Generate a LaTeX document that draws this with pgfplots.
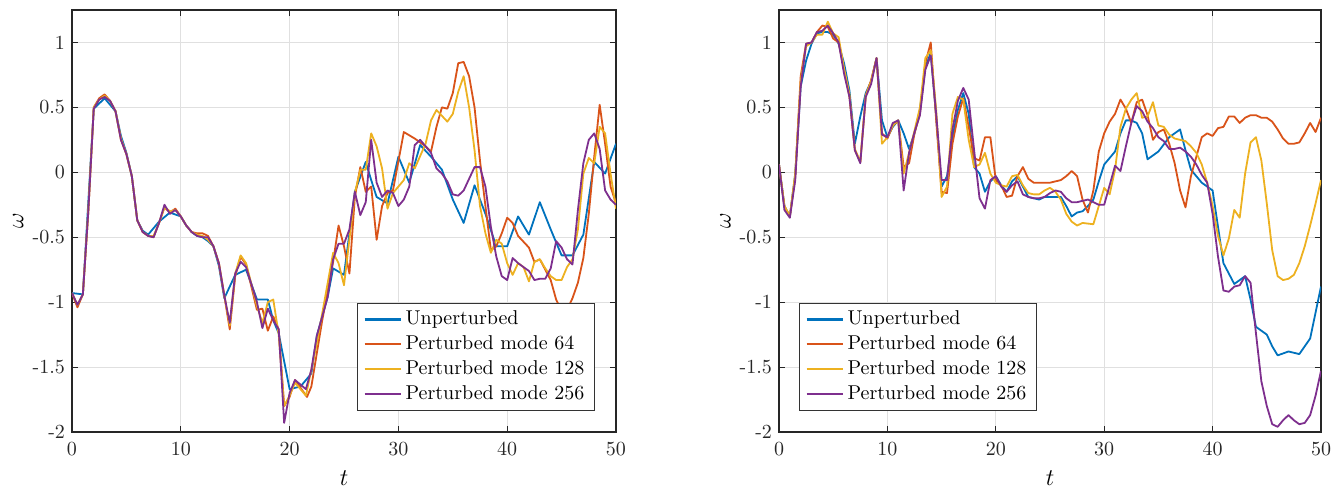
\documentclass[border=0pt]{standalone}
\usepackage{pgfplots}
\pgfplotsset{compat=1.18}
\definecolor{mblue}{rgb}{0,0.447,0.741}
\definecolor{morange}{rgb}{0.850,0.325,0.098}
\definecolor{myellow}{rgb}{0.929,0.694,0.125}
\definecolor{mpurple}{rgb}{0.494,0.184,0.556}
\pgfplotsset{
  sb/.style={mblue, line width=0.9pt, line join=round},
  so/.style={morange, line width=0.9pt, line join=round},
  sy/.style={myellow, line width=0.9pt, line join=round},
  sp/.style={mpurple, line width=0.9pt, line join=round},
  mstyle/.style={
    scale only axis,
    height=211pt,
    xmin=0, xmax=50, ymin=-2, ymax=1.25,
    xtick={0,10,20,30,40,50},
    ytick={-2,-1.5,-1,-0.5,0,0.5,1},
    yticklabels={-2,-1.5,-1,-0.5,0,0.5,1},
    tick pos=both, tick align=inside,
    major tick length=3pt,
    grid=major,
    grid style={black!12, line width=0.5pt},
    axis line style={black!85, line width=0.55pt},
    every tick/.style={black!85, line width=0.5pt},
    tick label style={black!85, font=\normalsize},
    xticklabel style={yshift=-2pt},
    xlabel={$t$}, ylabel={$\omega$},
    label style={font=\large},
    xlabel style={at={(axis description cs:0.5,-0.109)}, anchor=center},
    ylabel style={at={(axis description cs:-0.099,0.5)}, anchor=center},
    legend cell align=left,
    legend style={draw=black!80, font=\normalsize, fill=white},
    legend image code/.code={\draw[#1, line width=1.1pt] (0pt,0pt) -- (18pt,0pt);},
  }
}
\begin{document}
\begin{tikzpicture}
\path[use as bounding box] (-36pt,-29.5pt) rectangle (634pt,216pt);
\begin{axis}[mstyle, width=272pt, at={(0pt,0pt)}, anchor=south west,
  legend style={at={(axis description cs:0.961,0.05)}, anchor=south east}]
\addplot[sb] coordinates {
(0,-0.93)(1,-0.94)(2,0.49)(3,0.57)(4,0.47)(4.5,0.28)(5,0.15)(5.5,-0.03)(6,-0.37)(6.5,-0.45)(7,-0.48)(8,-0.38)(9,-0.31)(10,-0.34)(10.5,-0.41)(11,-0.46)(11.5,-0.49)(12,-0.5)(12.5,-0.53)(13,-0.57)(13.5,-0.72)(14,-0.97)(15,-0.79)(16,-0.75)(17,-0.98)(18,-0.98)(18.5,-1.14)(19,-1.24)(20,-1.67)(20.5,-1.66)(21,-1.65)(22,-1.55)(22.5,-1.26)(23.5,-0.96)(24,-0.74)(25,-0.79)(26,-0.15)(27,0.08)(27.5,-0.06)(28,-0.19)(29,-0.24)(30,0.12)(31,-0.08)(32,0.21)(33,0.12)(34,0.02)(35,-0.21)(36,-0.39)(37,-0.1)(38,-0.32)(39,-0.57)(40,-0.57)(41,-0.34)(42,-0.48)(43,-0.23)(44,-0.44)(45,-0.64)(46,-0.64)(47,-0.48)(48,0.08)(49,-0.01)(50,0.22)};
\addlegendentry{Unperturbed}
\addplot[so] coordinates {
(0,-0.93)(0.5,-1.04)(1,-0.94)(1.5,-0.3)(2,0.5)(2.5,0.57)(3,0.6)(3.5,0.55)(4,0.47)(4.5,0.25)(5,0.14)(5.5,-0.03)(6,-0.37)(6.5,-0.46)(7,-0.49)(7.5,-0.5)(8,-0.39)(8.5,-0.27)(9,-0.31)(9.5,-0.28)(10,-0.34)(10.5,-0.41)(11,-0.46)(11.5,-0.47)(12,-0.47)(12.5,-0.49)(13,-0.57)(13.5,-0.7)(14,-0.95)(14.5,-1.21)(15,-0.8)(15.5,-0.65)(16,-0.71)(17,-1.06)(17.5,-1.05)(18,-1.22)(18.5,-1.11)(19,-1.21)(19.5,-1.8)(20,-1.73)(20.5,-1.6)(21.6,-1.73)(22,-1.65)(23,-1.14)(24,-0.69)(24.5,-0.41)(25,-0.57)(25.5,-0.78)(26,-0.19)(26.5,0.04)(27,-0.15)(27.5,-0.11)(28,-0.52)(28.5,-0.26)(29,-0.16)(29.5,-0.14)(30.5,0.31)(31.5,0.26)(32.5,0.2)(33,0.16)(33.5,0.35)(34,0.5)(34.5,0.49)(35,0.61)(35.5,0.84)(36,0.85)(36.5,0.74)(37,0.5)(37.5,0.09)(38,-0.26)(38.5,-0.6)(39,-0.57)(39.5,-0.47)(40,-0.35)(40.5,-0.39)(41,-0.49)(42,-0.58)(42.5,-0.69)(43,-0.67)(44,-0.83)(44.5,-0.98)(45,-1.07)(45.5,-1.06)(46,-0.97)(46.5,-0.85)(47,-0.66)(47.5,-0.32)(48,0.12)(48.5,0.52)(49,0.22)(49.5,-0.11)(50,-0.24)};
\addlegendentry{Perturbed mode 64}
\addplot[sy] coordinates {
(0,-0.93)(0.5,-1.02)(1,-0.94)(1.5,-0.3)(2,0.5)(2.5,0.56)(3,0.59)(3.5,0.55)(4,0.47)(4.5,0.26)(5,0.14)(5.5,-0.03)(6,-0.37)(6.5,-0.46)(7,-0.49)(7.5,-0.49)(8,-0.39)(8.5,-0.27)(9,-0.3)(9.5,-0.29)(10,-0.34)(10.5,-0.41)(11,-0.46)(11.5,-0.48)(12,-0.49)(12.5,-0.52)(13,-0.57)(13.5,-0.7)(14,-0.95)(14.5,-1.18)(15,-0.78)(15.5,-0.64)(16,-0.7)(17,-1.03)(17.5,-1.16)(18,-1.0)(18.5,-0.98)(19,-1.25)(19.5,-1.8)(20,-1.72)(20.5,-1.62)(21.5,-1.72)(22.5,-1.32)(24,-0.62)(24.5,-0.7)(25,-0.87)(26,-0.16)(26.5,0.02)(27,0.02)(27.5,0.3)(28,0.2)(28.5,0.03)(29,-0.28)(29.5,-0.16)(30.5,-0.06)(31,0.07)(31.5,0.03)(32.5,0.22)(33,0.4)(33.5,0.48)(34.5,0.39)(35,0.45)(35.5,0.62)(36,0.74)(36.5,0.5)(37,0.17)(37.5,-0.26)(38,-0.47)(38.5,-0.62)(39,-0.52)(39.5,-0.55)(40,-0.7)(40.5,-0.79)(41,-0.7)(41.5,-0.73)(42,-0.84)(42.5,-0.69)(43,-0.67)(43.5,-0.74)(44,-0.8)(44.5,-0.83)(45,-0.83)(45.5,-0.73)(46,-0.67)(46.5,-0.44)(47,-0.01)(47.5,0.11)(48,0.07)(48.5,0.35)(49,0.3)(49.5,-0.01)(50,-0.28)};
\addlegendentry{Perturbed mode 128}
\addplot[sp] coordinates {
(0,-0.93)(0.5,-1.02)(1,-0.94)(1.5,-0.3)(2,0.49)(2.5,0.56)(3,0.58)(3.5,0.55)(4,0.47)(4.5,0.25)(5,0.14)(5.5,-0.03)(6,-0.37)(6.5,-0.46)(7,-0.49)(7.5,-0.5)(8,-0.39)(8.5,-0.25)(9,-0.32)(9.5,-0.29)(10,-0.34)(10.5,-0.41)(11,-0.46)(11.5,-0.49)(12,-0.5)(12.5,-0.5)(13,-0.57)(13.5,-0.7)(14,-0.95)(14.5,-1.16)(15,-0.78)(15.5,-0.69)(16,-0.73)(17,-1.0)(17.5,-1.2)(18,-1.05)(18.5,-1.14)(19,-1.21)(19.5,-1.93)(20,-1.7)(20.5,-1.6)(21.5,-1.67)(22,-1.52)(22.5,-1.26)(23.5,-0.96)(24,-0.67)(24.5,-0.55)(25,-0.55)(25.5,-0.44)(26,-0.15)(26.5,-0.33)(27,-0.23)(27.5,0.25)(28,-0.08)(28.5,-0.19)(29,-0.14)(29.5,-0.16)(30,-0.26)(30.5,-0.21)(31,-0.11)(31.5,0.21)(32,0.25)(32.5,0.2)(33,0.15)(33.5,0.03)(34,-0.01)(34.5,-0.07)(35,-0.17)(35.5,-0.18)(36,-0.14)(36.5,-0.05)(37,0.04)(37.5,0.04)(38,-0.11)(38.5,-0.42)(39,-0.65)(39.5,-0.8)(40,-0.83)(40.5,-0.66)(41,-0.7)(42,-0.76)(42.5,-0.83)(43,-0.82)(43.5,-0.82)(44,-0.74)(44.5,-0.53)(45,-0.58)(45.5,-0.67)(46,-0.71)(46.5,-0.29)(47,0.07)(47.5,0.25)(48,0.3)(48.5,0.18)(49,-0.14)(49.5,-0.21)(50,-0.25)};
\addlegendentry{Perturbed mode 256}
\end{axis}
\begin{axis}[mstyle, width=271pt, at={(353.5pt,0pt)}, anchor=south west,
  legend style={at={(axis description cs:0.037,0.05)}, anchor=south west}]
\addplot[sb] coordinates {
(0,0.06)(0.5,-0.26)(1,-0.34)(1.5,-0.01)(2,0.66)(2.5,0.86)(3,0.99)(3.5,1.07)(4,1.08)(4.5,1.08)(5,1.06)(5.5,0.99)(6,0.84)(6.5,0.63)(7,0.22)(7.5,0.43)(8,0.61)(8.5,0.7)(9,0.88)(9.5,0.4)(10,0.27)(10.5,0.35)(11,0.4)(11.5,0.3)(12,0.18)(12.5,0.3)(13,0.48)(13.5,0.81)(14,0.92)(14.5,0.43)(15,-0.11)(15.5,-0.03)(16,0.27)(16.5,0.48)(17,0.61)(17.5,0.45)(18,0.04)(18.5,-0.01)(19,-0.15)(19.5,-0.07)(20,-0.03)(20.5,-0.1)(21,-0.15)(21.5,-0.07)(22,-0.03)(22.5,-0.11)(23,-0.19)(23.5,-0.2)(24,-0.21)(24.5,-0.19)(25,-0.19)(25.5,-0.19)(26,-0.19)(26.5,-0.26)(27,-0.34)(27.5,-0.31)(28,-0.3)(28.5,-0.26)(29,-0.21)(29.5,-0.07)(30,0.06)(30.5,0.11)(31,0.16)(31.5,0.3)(32,0.4)(32.5,0.4)(33,0.38)(33.5,0.3)(34,0.1)(35,0.16)(36,0.27)(37,0.33)(37.5,0.17)(38,0.02)(38.5,-0.03)(39,-0.08)(39.5,-0.11)(40,-0.14)(40.5,-0.42)(41,-0.7)(41.5,-0.78)(42,-0.86)(42.5,-0.83)(43,-0.8)(43.5,-0.98)(44,-1.19)(44.5,-1.22)(45,-1.25)(45.5,-1.34)(46,-1.41)(47,-1.38)(48,-1.4)(49,-1.28)(50,-0.88)};
\addlegendentry{Unperturbed}
\addplot[so] coordinates {
(0,0.06)(0.5,-0.26)(1,-0.34)(1.5,-0.03)(2,0.74)(2.5,0.99)(3,1.0)(3.5,1.08)(4,1.13)(4.5,1.12)(5,1.03)(5.5,1.0)(6,0.79)(6.5,0.58)(7,0.17)(7.5,0.08)(8,0.59)(8.5,0.71)(9,0.88)(9.5,0.3)(10,0.26)(10.5,0.36)(11,0.4)(11.5,0.04)(12,0.07)(12.5,0.3)(13,0.45)(13.5,0.84)(14,1.0)(14.5,0.4)(15,-0.15)(15.5,-0.16)(16,0.22)(16.5,0.43)(17,0.57)(17.5,0.35)(18,0.11)(18.5,0.09)(19,0.27)(19.5,0.27)(20,-0.06)(20.5,-0.1)(21,-0.19)(21.5,-0.18)(22,-0.03)(22.5,0.04)(23,-0.05)(23.5,-0.08)(24,-0.08)(25,-0.08)(26,-0.06)(26.5,-0.03)(27,0.01)(27.5,-0.03)(28,-0.21)(28.5,-0.31)(29,-0.14)(29.5,0.16)(30,0.3)(30.5,0.39)(31,0.45)(31.5,0.56)(32,0.49)(32.5,0.38)(33,0.54)(33.5,0.56)(34,0.44)(34.5,0.25)(35,0.31)(35.5,0.33)(36,0.22)(36.5,0.07)(37,-0.14)(37.5,-0.27)(38,-0.03)(38.5,0.12)(39,0.27)(39.5,0.3)(40,0.28)(40.5,0.34)(41,0.35)(41.5,0.43)(42,0.43)(42.5,0.38)(43,0.42)(43.5,0.44)(44,0.44)(44.5,0.42)(45,0.42)(45.5,0.39)(46,0.33)(46.5,0.26)(47,0.22)(47.5,0.22)(48,0.23)(48.5,0.3)(49,0.38)(49.5,0.31)(50,0.42)};
\addlegendentry{Perturbed mode 64}
\addplot[sy] coordinates {
(0,0.06)(0.5,-0.26)(1,-0.34)(1.5,-0.01)(2,0.7)(2.5,0.97)(3,1.0)(3.5,1.06)(4,1.06)(4.5,1.16)(5,1.07)(5.5,1.04)(6,0.8)(6.5,0.6)(7,0.18)(7.5,0.08)(8,0.59)(8.5,0.7)(9,0.88)(9.5,0.22)(10,0.27)(10.5,0.36)(11,0.4)(11.5,-0.01)(12,0.15)(12.5,0.32)(13,0.5)(13.5,0.88)(14,0.94)(14.5,0.48)(15,-0.19)(15.5,-0.11)(16,0.45)(16.5,0.58)(17,0.56)(17.5,0.25)(18,0.04)(18.5,0.06)(19,0.15)(19.5,-0.01)(20,-0.08)(20.5,-0.1)(21,-0.11)(21.5,-0.03)(22,-0.02)(22.5,-0.1)(23,-0.16)(23.5,-0.17)(24,-0.17)(24.5,-0.14)(25,-0.12)(25.5,-0.15)(26,-0.21)(26.5,-0.32)(27,-0.38)(27.5,-0.41)(28,-0.39)(29,-0.4)(29.5,-0.26)(30,-0.12)(30.5,-0.17)(31,0.02)(31.5,0.35)(32,0.49)(32.5,0.56)(33,0.61)(33.5,0.42)(34,0.43)(34.5,0.54)(35,0.36)(35.5,0.35)(36,0.29)(36.5,0.26)(37,0.25)(37.5,0.24)(38,0.2)(38.5,0.15)(39,0.06)(39.5,-0.08)(40,-0.26)(40.5,-0.49)(41,-0.64)(41.5,-0.51)(42,-0.29)(42.5,-0.35)(43,-0.01)(43.5,0.23)(44,0.27)(44.5,0.09)(45,-0.24)(45.5,-0.6)(46,-0.8)(46.5,-0.83)(47,-0.82)(47.5,-0.79)(48,-0.7)(48.5,-0.57)(49,-0.41)(49.5,-0.24)(50,-0.06)};
\addlegendentry{Perturbed mode 128}
\addplot[sp] coordinates {
(0,0.06)(0.5,-0.29)(1,-0.35)(1.5,-0.06)(2,0.66)(2.5,0.99)(3,1.0)(3.5,1.08)(4,1.09)(4.5,1.13)(5,1.07)(5.5,1.0)(6,0.76)(6.5,0.58)(7,0.17)(7.5,0.07)(8,0.58)(8.5,0.68)(9,0.88)(9.5,0.29)(10,0.27)(10.5,0.38)(11,0.4)(11.5,-0.14)(12,0.15)(12.5,0.31)(13,0.44)(13.5,0.79)(14,0.9)(14.5,0.45)(15,-0.06)(15.5,-0.06)(16,0.33)(16.5,0.55)(17,0.65)(17.5,0.56)(18,0.17)(18.5,-0.2)(19,-0.28)(19.5,-0.06)(20,-0.03)(20.5,-0.11)(21,-0.15)(21.5,-0.1)(22,-0.07)(22.5,-0.17)(23,-0.19)(23.5,-0.2)(24,-0.2)(24.5,-0.19)(25,-0.16)(25.5,-0.14)(26,-0.15)(26.5,-0.2)(27,-0.23)(27.5,-0.23)(28,-0.22)(28.5,-0.21)(29,-0.23)(29.5,-0.25)(30,-0.25)(30.5,-0.1)(31,0.05)(31.5,0.01)(32,0.2)(32.5,0.38)(33,0.51)(33.5,0.47)(34,0.39)(34.5,0.34)(35,0.27)(35.5,0.24)(36,0.18)(36.5,0.18)(37,0.19)(37.5,0.16)(38,0.12)(38.5,0.06)(39,-0.02)(39.5,-0.08)(40,-0.32)(40.5,-0.65)(41,-0.91)(41.5,-0.92)(42,-0.88)(42.5,-0.87)(43,-0.8)(43.5,-0.85)(44,-1.24)(44.5,-1.61)(45,-1.8)(45.5,-1.94)(46,-1.96)(46.5,-1.91)(47,-1.87)(47.5,-1.91)(48,-1.94)(48.5,-1.93)(49,-1.87)(49.5,-1.72)(50,-1.53)};
\addlegendentry{Perturbed mode 256}
\end{axis}
\end{tikzpicture}
\end{document}
